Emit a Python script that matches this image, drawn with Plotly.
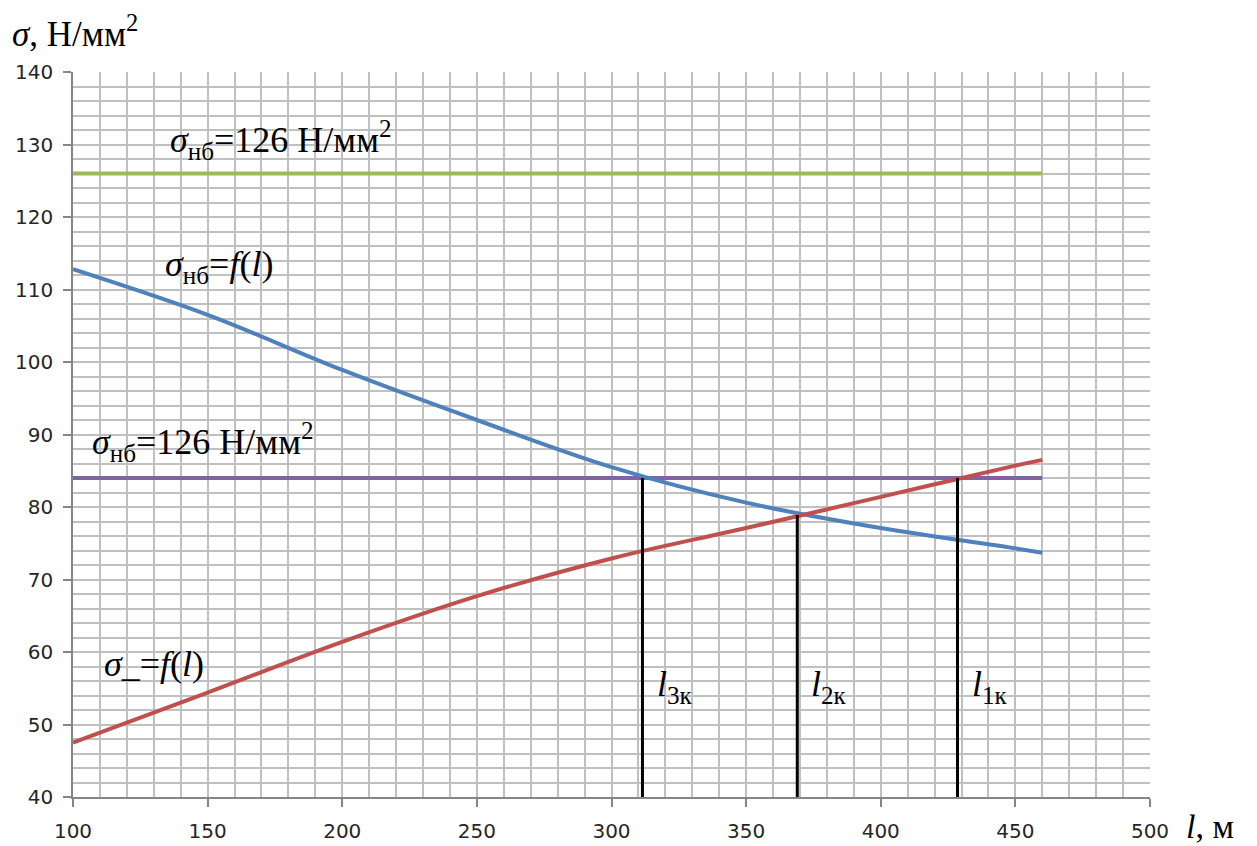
import plotly.graph_objects as go

# Data
l_vals = [100, 150, 200, 250, 300, 350, 400, 450, 460]
sigma_nb_curve = [112.8, 106.5, 98.9, 92.0, 85.5, 80.6, 77.1, 74.3, 73.7]
sigma_low_curve = [47.5, 54.4, 61.4, 67.7, 72.9, 77.1, 81.4, 85.7, 86.5]

h_line_x = [100, 460]
green_level = [126, 126]
purple_level = [84, 84]

crit_l = [311.5, 369, 428.5]
crit_sigma = [84.0, 78.9, 84.0]
crit_labels = ["<i>l</i><sub>3к</sub>", "<i>l</i><sub>2к</sub>", "<i>l</i><sub>1к</sub>"]

x_ticks = [100, 150, 200, 250, 300, 350, 400, 450, 500]
y_ticks = [40, 50, 60, 70, 80, 90, 100, 110, 120, 130, 140]

GRID = "#c0c0c0"
AXIS = "#868686"
SERIF = "Liberation Serif, Times New Roman, serif"

fig = go.Figure()

fig.add_trace(go.Scatter(x=h_line_x, y=green_level, mode="lines",
                         line=dict(color="#9BBB59", width=4), showlegend=False))
fig.add_trace(go.Scatter(x=h_line_x, y=purple_level, mode="lines",
                         line=dict(color="#8064A2", width=4), showlegend=False))
fig.add_trace(go.Scatter(x=l_vals, y=sigma_nb_curve, mode="lines",
                         line=dict(color="#4F81BD", width=4, shape="spline", smoothing=1.0),
                         showlegend=False))
fig.add_trace(go.Scatter(x=l_vals, y=sigma_low_curve, mode="lines",
                         line=dict(color="#C0504D", width=4, shape="spline", smoothing=1.0),
                         showlegend=False))

for lx, sy in zip(crit_l, crit_sigma):
    fig.add_trace(go.Scatter(x=[lx, lx], y=[40, sy], mode="lines",
                             line=dict(color="black", width=3), showlegend=False))

text_font = dict(family=SERIF, size=36, color="black")

annotations = [
    dict(x=135.3, y=130.6, text="<i>σ</i><sub>нб</sub>=126 Н/мм<sup>2</sup>"),
    dict(x=106.3, y=89.0, text="<i>σ</i><sub>нб</sub>=126 Н/мм<sup>2</sup>"),
    dict(x=133.4, y=113.2, text="<i>σ</i><sub>нб</sub>=<i>f</i>(<i>l</i>)"),
    dict(x=110.8, y=58.4, text="<i>σ</i>_=<i>f</i>(<i>l</i>)"),
]
for lx, lab in zip(crit_l, crit_labels):
    annotations.append(dict(x=lx + 4.5, y=55.3, text=lab))

for a in annotations:
    fig.add_annotation(x=a["x"], y=a["y"], text=a["text"], xref="x", yref="y",
                       xanchor="left", yanchor="middle", showarrow=False, font=text_font)

fig.add_annotation(x=-0.0585, y=1.056, xref="paper", yref="paper",
                   text="<i>σ</i>, Н/мм<sup>2</sup>", xanchor="left", yanchor="middle",
                   showarrow=False, font=dict(family=SERIF, size=35, color="black"))
fig.add_annotation(x=1.0315, y=-0.040, xref="paper", yref="paper",
                   text="<i>l</i>, м", xanchor="left", yanchor="middle",
                   showarrow=False, font=dict(family=SERIF, size=34, color="black"))

tick_font = dict(family="DejaVu Sans, Verdana, sans-serif", size=20, color="#262626")

fig.update_xaxes(range=[100, 500], tickvals=x_ticks, ticktext=[str(v) for v in x_ticks],
                 showgrid=True, gridcolor=GRID, gridwidth=1.5,
                 minor=dict(dtick=10, tick0=100, showgrid=True, gridcolor=GRID, gridwidth=1.5),
                 showline=True, linecolor=AXIS, linewidth=1.5,
                 ticks="outside", ticklen=8, tickcolor=AXIS, tickwidth=1.5,
                 tickfont=tick_font, ticklabelstandoff=7, zeroline=False, automargin=False)
fig.update_yaxes(range=[40, 140], tickvals=y_ticks, ticktext=[str(v) for v in y_ticks],
                 showgrid=True, gridcolor=GRID, gridwidth=1.5,
                 minor=dict(dtick=2, tick0=40, showgrid=True, gridcolor=GRID, gridwidth=1.5),
                 showline=True, linecolor=AXIS, linewidth=1.5,
                 ticks="outside", ticklen=8, tickcolor=AXIS, tickwidth=1.5,
                 tickfont=tick_font, ticklabelstandoff=6, zeroline=False, automargin=False)

# page body adds an 8px offset, so the figure is shrunk by that amount
fig.update_layout(width=1249, height=838, margin=dict(l=65, r=107, t=64, b=49),
                  plot_bgcolor="white", paper_bgcolor="white", showlegend=False)

fig.write_html("out.html")
